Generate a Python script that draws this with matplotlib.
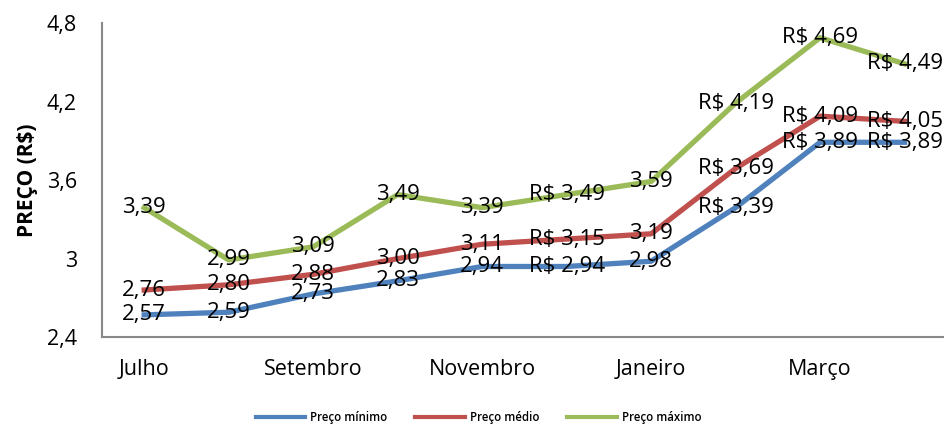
import matplotlib
matplotlib.use("Agg")
import matplotlib.pyplot as plt

months = ["Julho", "Agosto", "Setembro", "Outubro", "Novembro", "Dezembro",
          "Janeiro", "Fevereiro", "Março", "Abril"]
preco_min = [2.57, 2.59, 2.73, 2.83, 2.94, 2.94, 2.98, 3.39, 3.89, 3.89]
preco_med = [2.76, 2.80, 2.88, 3.00, 3.11, 3.15, 3.19, 3.69, 4.09, 4.05]
preco_max = [3.39, 2.99, 3.09, 3.49, 3.39, 3.49, 3.59, 4.19, 4.69, 4.49]
# which points carry the "R$" currency prefix in their labels
currency_idx = [5, 7, 8, 9]
yticks = [2.4, 3.0, 3.6, 4.2, 4.8]

series = [("Preço mínimo", preco_min, "#4F81BD"),
          ("Preço médio", preco_med, "#C0504D"),
          ("Preço máximo", preco_max, "#9BBB59")]

plt.rcParams['font.family'] = ['Open Sans', 'DejaVu Sans']

fig = plt.figure(figsize=(9.44, 4.24), dpi=100)
ax = fig.add_axes([0.108, 0.205, 0.895, 0.74])

x = list(range(len(months)))
for name, vals, col in series:
    ax.plot(x, vals, color=col, lw=3.8, label=name, solid_joinstyle='round')
for name, vals, col in series:
    for i, v in enumerate(vals):
        s = f"{v:.2f}".replace(".", ",")
        if i in currency_idx:
            s = "R$ " + s
        ax.text(i, v, s, ha='center', va='center', fontsize=16, color='black')

ax.set_xlim(-0.5, len(months) - 0.5)
ax.set_ylim(2.4, 4.8)
ax.set_yticks(yticks)
ax.set_yticklabels([f"{t:g}".replace(".", ",") for t in yticks], fontsize=15.5)
ax.set_xticks(x[::2])
ax.set_xticklabels(months[::2], fontsize=15.5)
ax.tick_params(axis='both', length=0)
ax.tick_params(axis='x', pad=16)
ax.tick_params(axis='y', pad=18)
for sp in ['top', 'right']:
    ax.spines[sp].set_visible(False)
for sp in ['left', 'bottom']:
    ax.spines[sp].set_color('#888888')
    ax.spines[sp].set_linewidth(1.5)

ax.set_ylabel("PREÇO (R$)", fontsize=15, fontweight='bold', labelpad=6)

leg = fig.legend(loc='lower center', bbox_to_anchor=(0.507, -0.025), ncol=3,
                 frameon=False, handlelength=4.3, columnspacing=2.4,
                 handletextpad=0.45,
                 prop={'size': 8.3, 'weight': 'semibold'})
for l in leg.get_lines():
    l.set_linewidth(3)

fig.savefig("out.png", dpi=100)
